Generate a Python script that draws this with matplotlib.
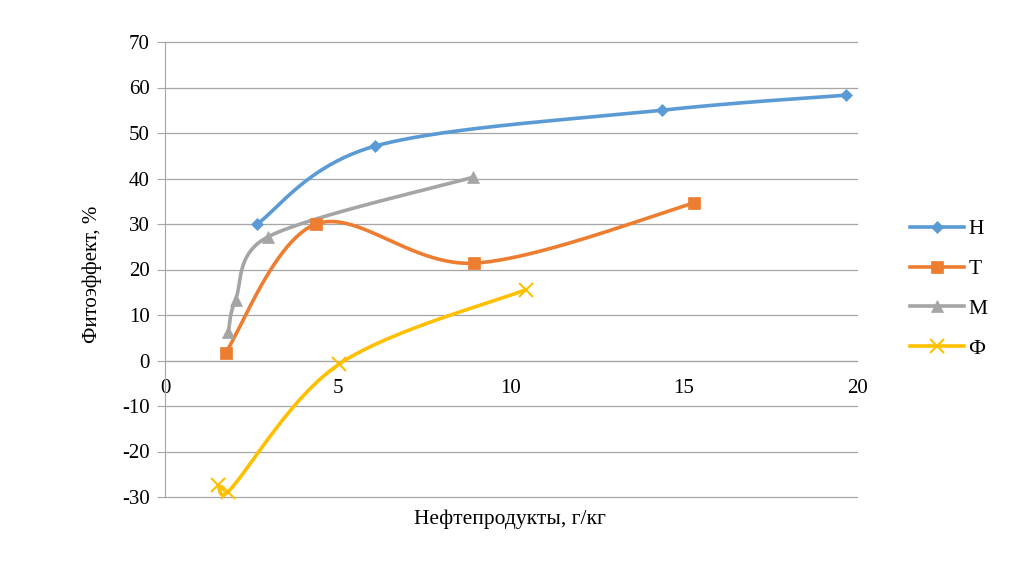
import numpy as np
import matplotlib
matplotlib.use("Agg")
import matplotlib.pyplot as plt
from matplotlib.lines import Line2D

h_x = [2.66, 6.06, 14.36, 19.67]
h_y = [30.0, 47.1, 55.0, 58.3]
t_x = [1.75, 4.37, 8.94, 15.29]
t_y = [1.7, 30.0, 21.4, 34.6]
m_x = [1.83, 2.04, 2.98, 8.91]
m_y = [6.3, 13.4, 27.2, 40.3]
f_x = [1.54, 1.83, 5.03, 10.44]
f_y = [-27.4, -28.8, -0.8, 15.6]

labels = ["Н", "Т", "М", "Ф"]
colors = ["#5B9BD5", "#ED7D31", "#A5A5A5", "#FFC000"]
markers = ["D", "s", "^", "x"]
msizes = [6, 8, 8, 10]

plt.rcParams['font.family'] = ['Liberation Serif', 'DejaVu Serif']
plt.rcParams['axes.unicode_minus'] = False


def smooth(xs, ys, n=50):
    p = np.column_stack([xs, ys]).astype(float)
    pts = np.vstack([p[0], p, p[-1]])
    out = []
    for i in range(1, len(pts) - 2):
        p0, p1, p2, p3 = pts[i - 1], pts[i], pts[i + 1], pts[i + 2]
        lo, hi = min(p1[0], p2[0]), max(p1[0], p2[0])
        t1 = (p2 - p0) / 6.0
        t2 = (p3 - p1) / 6.0
        if t1[0] > 0 and p1[0] + t1[0] > hi:
            t1 = t1 * (hi - p1[0]) / t1[0]
        if t2[0] > 0 and p2[0] - t2[0] < lo:
            t2 = t2 * (p2[0] - lo) / t2[0]
        c1 = p1 + t1
        c2 = p2 - t2
        t = np.linspace(0, 1, n)[:, None]
        seg = ((1 - t) ** 3) * p1 + 3 * ((1 - t) ** 2) * t * c1 + 3 * (1 - t) * t ** 2 * c2 + t ** 3 * p2
        out.append(seg if i == 1 else seg[1:])
    seg = np.vstack(out)
    return seg[:, 0], seg[:, 1]


fig = plt.figure(figsize=(10.24, 5.74), dpi=100)
ax = fig.add_axes([165 / 1024, 1 - 497 / 574, (857 - 165) / 1024, (497 - 42) / 574])

series = [(h_x, h_y), (t_x, t_y), (m_x, m_y), (f_x, f_y)]
handles = []
for (xs, ys), lab, c, mk, ms in zip(series, labels, colors, markers, msizes):
    sx, sy = smooth(xs, ys)
    ax.plot(sx, sy, color=c, lw=2.6, solid_capstyle='round', zorder=3, clip_on=False)
    mew = 1.5 if mk == 'x' else 0.5
    ax.plot(xs, ys, linestyle='none', marker=mk, ms=ms, color=c, mec=c, mew=mew, zorder=4, clip_on=False)
    handles.append(Line2D([], [], color=c, lw=2.6, marker=mk, ms=ms, mec=c, mew=mew))

ax.set_xlim(0, 20)
ax.set_ylim(-30, 70)
ax.set_xticks([0, 5, 10, 15, 20])
ax.set_yticks(np.arange(-30, 71, 10))
ax.yaxis.grid(True, color='#A6A6A6', lw=0.9)
for gl in ax.get_ygridlines():
    gl.set_clip_on(False)
ax.set_axisbelow(True)
for s in ['top', 'right']:
    ax.spines[s].set_visible(False)
ax.spines['bottom'].set_position(('data', 0))
ax.spines['bottom'].set_color('#A6A6A6')
ax.spines['left'].set_color('#A6A6A6')
ax.tick_params(axis='y', length=6, color='#A6A6A6', labelsize=15, pad=5)
ax.tick_params(axis='x', length=0, labelsize=15, pad=13)

fig.text(510 / 1024, 1 - 519 / 574, "Нефтепродукты, г/кг", ha='center', va='center', fontsize=15.5)
fig.text(92 / 1024, 1 - 274 / 574, "Фитоэффект, %", ha='center', va='center', fontsize=15, rotation=90)

fig.legend(handles, labels, loc='center left', bbox_to_anchor=(891 / 1024, 1 - 289 / 574),
           frameon=False, fontsize=15.5, handlelength=2.5, labelspacing=0.92, handletextpad=0.2)

fig.savefig("out.png", dpi=100)
